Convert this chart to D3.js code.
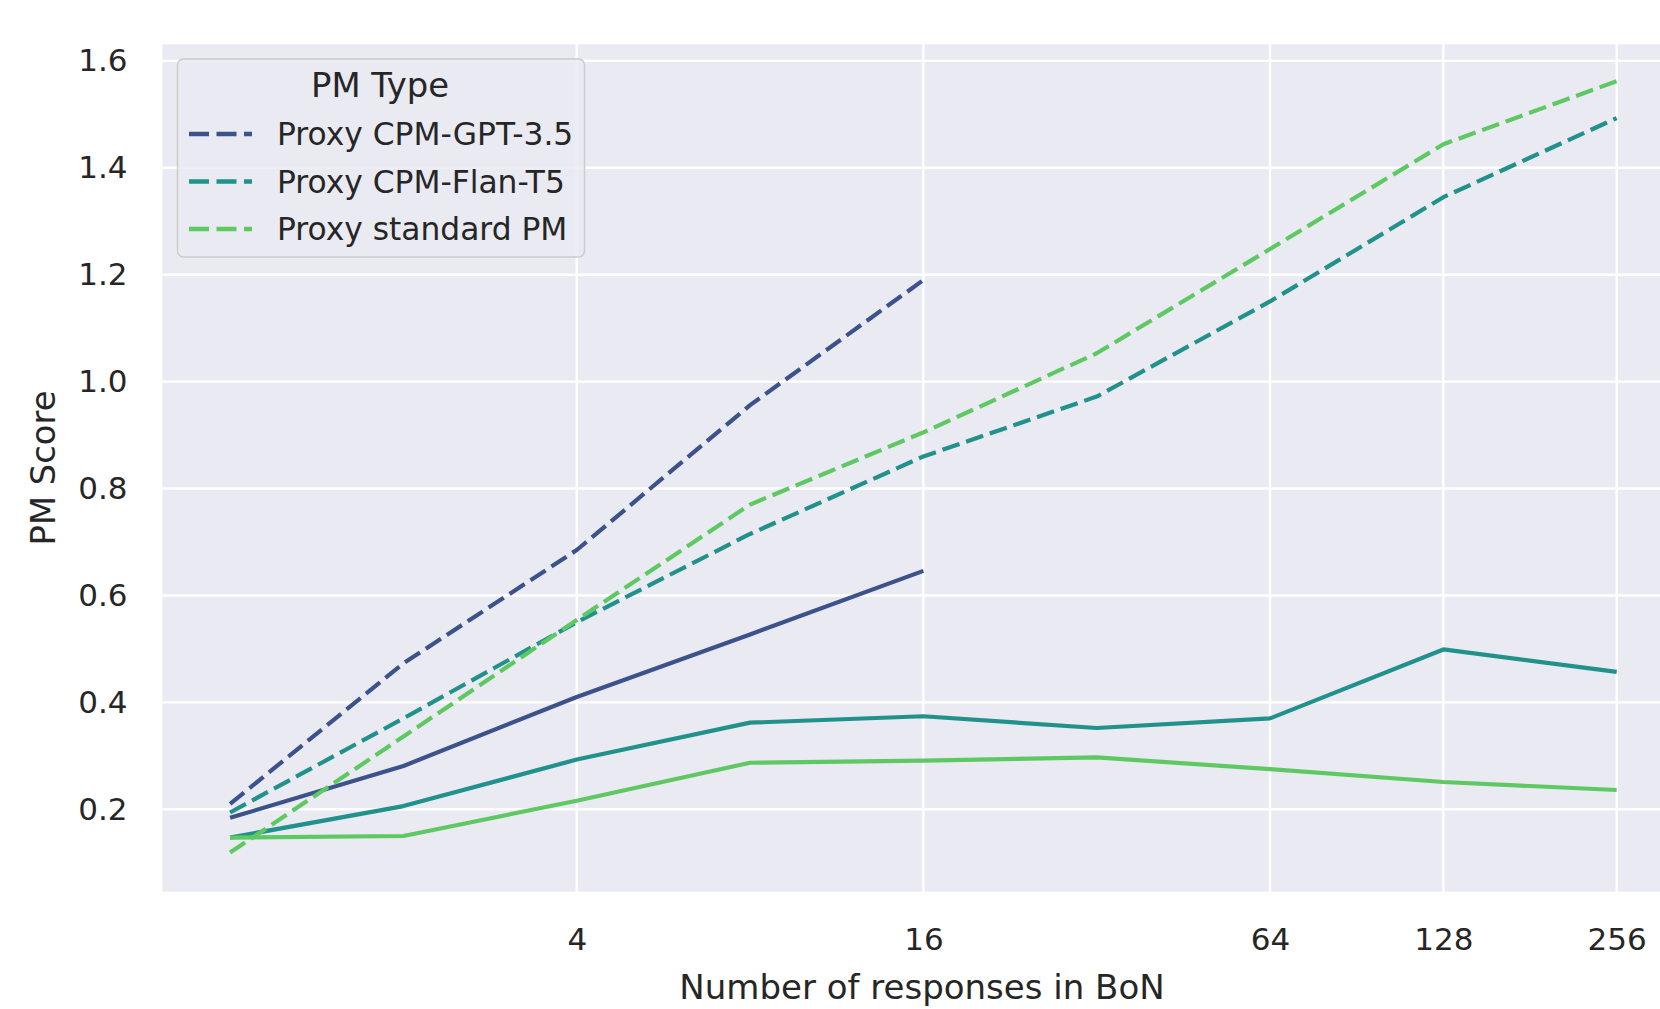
<!DOCTYPE html>
<html><head><meta charset="utf-8">
<script src="https://cdn.jsdelivr.net/npm/d3@7"></script>
<style>body{margin:0;background:#fff;} svg{display:block;font-family:"DejaVu Sans",sans-serif;}</style>
</head><body>
<svg id="c" width="1660" height="1009"></svg>
<script>
const nValues = [1, 2, 4, 8, 16, 32, 64, 128, 256];
const xTickValues = [4, 16, 64, 128, 256];
const yTickValues = [0.2, 0.4, 0.6, 0.8, 1.0, 1.2, 1.4, 1.6];
const seriesNames = ["Proxy CPM-GPT-3.5", "Proxy CPM-Flan-T5", "Proxy standard PM"];
const seriesColors = ["#3b528b", "#21918c", "#5ec962"];
// proxy (dashed) scores
const proxyGPT = [0.21, 0.473, 0.685, 0.956, 1.19];
const proxyFlan = [0.194, 0.37, 0.55, 0.715, 0.86, 0.972, 1.15, 1.345, 1.493];
const proxyStd = [0.119, 0.336, 0.554, 0.77, 0.905, 1.053, 1.248, 1.444, 1.562];
// gold (solid) scores
const goldGPT = [0.184, 0.281, 0.41, 0.527, 0.646];
const goldFlan = [0.147, 0.206, 0.293, 0.362, 0.374, 0.352, 0.37, 0.499, 0.457];
const goldStd = [0.147, 0.15, 0.216, 0.287, 0.291, 0.297, 0.275, 0.251, 0.236];

const svg = d3.select("#c");
const L = 162.5, R = 1686, T = 44.3, B = 891.7;
const x = d3.scaleLog().base(2).domain([Math.pow(2, -0.39), Math.pow(2, 8.4)]).range([L, R]);
const y = d3.scaleLinear().domain([0.0458, 1.631]).range([B, T]);

svg.append("rect").attr("x", L).attr("y", T).attr("width", R - L).attr("height", B - T).attr("fill", "#eaeaf2");

// grid
svg.append("g").selectAll("line").data(yTickValues).join("line")
  .attr("x1", L).attr("x2", R).attr("y1", d => y(d)).attr("y2", d => y(d))
  .attr("stroke", "#fff").attr("stroke-width", 2.4);
svg.append("g").selectAll("line").data(xTickValues).join("line")
  .attr("x1", d => x(d)).attr("x2", d => x(d)).attr("y1", T).attr("y2", B)
  .attr("stroke", "#fff").attr("stroke-width", 2.4);

// axes
const xAxis = d3.axisBottom(x).tickValues(xTickValues).tickFormat(d3.format("d")).tickSize(0).tickPadding(36);
const gx = svg.append("g").attr("transform", `translate(0,${B})`).call(xAxis);
gx.select(".domain").remove();
gx.selectAll("text").attr("font-size", 31).attr("fill", "#262626").attr("font-family", "DejaVu Sans");

const yAxis = d3.axisLeft(y).tickValues(yTickValues).tickFormat(d3.format(".1f")).tickSize(0).tickPadding(35);
const gy = svg.append("g").attr("transform", `translate(${L},0)`).call(yAxis);
gy.select(".domain").remove();
gy.selectAll("text").attr("font-size", 31).attr("fill", "#262626").attr("font-family", "DejaVu Sans");

svg.append("text").attr("x", 922).attr("y", 999).attr("text-anchor", "middle")
  .attr("font-size", 34).attr("fill", "#262626").text("Number of responses in BoN");
svg.append("text").attr("transform", "translate(55,468) rotate(-90)").attr("text-anchor", "middle")
  .attr("font-size", 33.8).attr("fill", "#262626").text("PM Score");

const line = d3.line().x((d, i) => x(nValues[i])).y(d => y(d));
const dash = "18,7";
const series = [
  {v: goldGPT, c: 0, dash: null}, {v: goldFlan, c: 1, dash: null}, {v: goldStd, c: 2, dash: null},
  {v: proxyGPT, c: 0, dash: dash}, {v: proxyFlan, c: 1, dash: dash}, {v: proxyStd, c: 2, dash: dash}
];
const gl = svg.append("g");
series.forEach(s => {
  gl.append("path").datum(s.v).attr("d", line).attr("fill", "none")
    .attr("stroke", seriesColors[s.c]).attr("stroke-width", 4.2)
    .attr("stroke-dasharray", s.dash).attr("stroke-linecap", "butt").attr("stroke-linejoin", "round");
});

// legend
const lg = svg.append("g");
lg.append("rect").attr("x", 177.5).attr("y", 59).attr("width", 407).attr("height", 198).attr("rx", 6)
  .attr("fill", "#eaeaf2").attr("fill-opacity", 0.85).attr("stroke", "#cccccc").attr("stroke-width", 1.5);
lg.append("text").attr("x", 380).attr("y", 97).attr("text-anchor", "middle").attr("font-size", 33.8)
  .attr("fill", "#262626").text("PM Type");
seriesNames.forEach((n, i) => {
  const yy = 134 + i * 47.5;
  lg.append("line").attr("x1", 189).attr("x2", 252).attr("y1", yy).attr("y2", yy)
    .attr("stroke", seriesColors[i]).attr("stroke-width", 4.4).attr("stroke-dasharray", "20,7.5");
  lg.append("text").attr("x", 277).attr("y", yy + 11).attr("font-size", 31.3).attr("fill", "#262626").text(n);
});
</script>
</body></html>
